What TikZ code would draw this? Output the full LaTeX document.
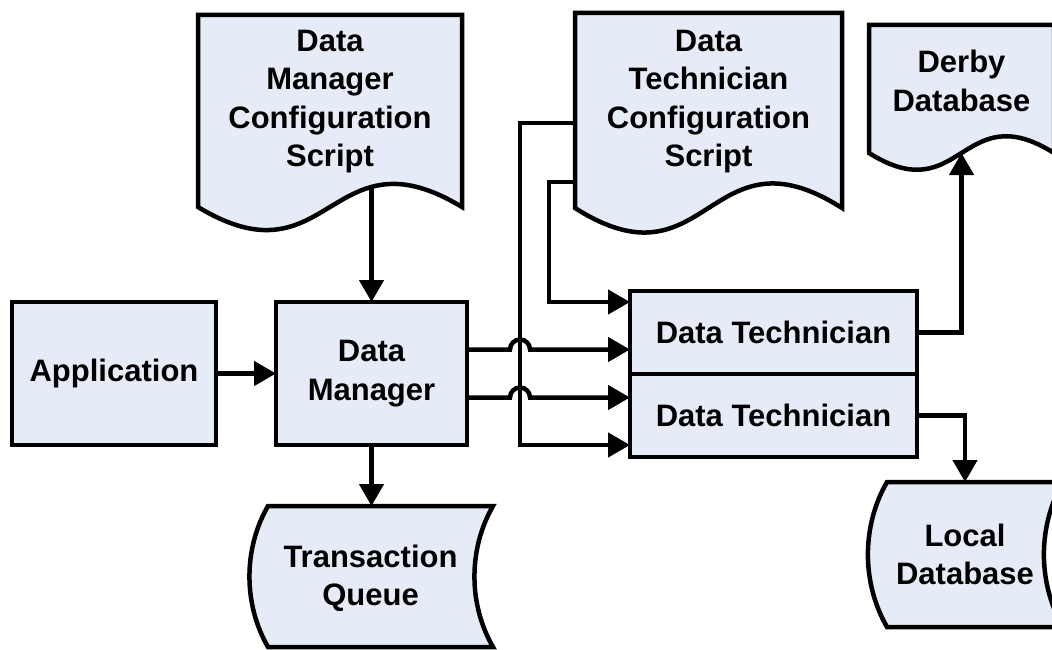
\documentclass[tikz,border=0pt]{standalone}
\usepackage{fontspec}
\setmainfont{Liberation Sans}
\usetikzlibrary{arrows.meta,positioning,backgrounds}
\definecolor{boxfill}{RGB}{230,236,247}

% document symbol: wavy bottom below the text body
\newcommand\docoutline[3]{%
  \draw[outline] (#1.north west) -- (#1.north east) -- ([yshift=-#2pt]#1.south east)
    .. controls ([yshift={#3pt-#2pt}]#1.south) and ([yshift={-#2pt-#3pt}]#1.south)
    .. ([yshift=-#2pt]#1.south west) -- cycle;}
% stored data symbol: bulging left side, hollow right side
\newcommand\storeoutline[2]{%
  \draw[outline] (#1.north west) -- ([xshift=#2pt]#1.north east)
    to[out=240,in=120,looseness=0.9] ([xshift=#2pt]#1.south east)
    -- (#1.south west) to[out=120,in=240,looseness=0.9] (#1.north west) -- cycle;}

\begin{document}
\begin{tikzpicture}[x=1pt,y=1pt,
    outline/.style={draw,line width=4.5pt,fill=boxfill},
    flow/.style={line width=4.5pt,-{Triangle[length=22pt,width=24pt]}},
    base node/.style={inner sep=0pt,outer sep=0pt,align=center,
      font=\fontsize{31}{38.5}\selectfont\bfseries},
    box node/.style={base node,outline,rectangle}]
  \useasboundingbox (0,0) rectangle (1052,-650);

  \node[box node,minimum width=204pt,minimum height=143pt] (app) at (114,-373.5) {Application};
  \node[box node,minimum width=191pt,minimum height=143pt] (dm) at (371.5,-373.5) {Data\\Manager};
  \node[box node,minimum width=287pt,minimum height=83pt] (dt1) at (773.5,-332.5) {Data Technician};
  \node[box node,minimum width=287pt,minimum height=83pt] (dt2) [below=0pt of dt1] {Data Technician};

  \node[base node,minimum width=264pt,minimum height=173pt] (dmcfg) at (330,-101.5)
    {Data\\Manager\\Configuration\\Script};
  \node[base node,minimum width=267pt,minimum height=177pt] (dtcfg) at (708.5,-101.5)
    {Data\\Technician\\Configuration\\Script};
  \node[base node,minimum width=185pt,minimum height=112pt] (derby) at (961.5,-81)
    {Derby\\Database};
  \node[base node,minimum width=205pt,minimum height=141pt,text height=64.5pt] (queue)
    at (370.5,-576.5) {Transaction\\Queue};
  \node[base node,minimum width=156pt,minimum height=145pt] (localdb) at (965,-554.5)
    {Local\\Database};

  \begin{scope}[on background layer]
    \docoutline{dmcfg}{19}{80}
    \docoutline{dtcfg}{18}{85}
    \docoutline{derby}{16}{58}
    \storeoutline{queue}{20}
    \storeoutline{localdb}{20}
  \end{scope}

  \path (app) edge[flow] (dm);
  \draw[flow] ([yshift=2pt]dmcfg.south -| dm.north) -- (dm.north);
  \draw[flow] (dm.south) -- (dm.south |- queue.north);
  % manager to technicians, hopping over the bus
  \draw[flow] ([yshift=24pt]dm.east) -- ++(43,0) arc[start angle=180,end angle=0,radius=10pt]
    coordinate (h1) -- (h1 -| dt1.west);
  \draw[flow] ([yshift=-24pt]dm.east) -- ++(43,0) arc[start angle=180,end angle=0,radius=10pt]
    coordinate (h2) -- (h2 -| dt2.west);
  % configuration script to technicians
  \draw[flow] ([yshift=-21.5pt]dtcfg.west) -- ++(-55,0) |- ([yshift=-29.5pt]dt2.west);
  \draw[flow] ([yshift=-80.5pt]dtcfg.west) -- ++(-26,0) |- ([yshift=30.5pt]dt1.west);
  \draw[flow] (dt1.east) -| ([yshift=-16pt]derby.south);
  \draw[flow] (dt2.east) -| (localdb.north);
\end{tikzpicture}
\end{document}
